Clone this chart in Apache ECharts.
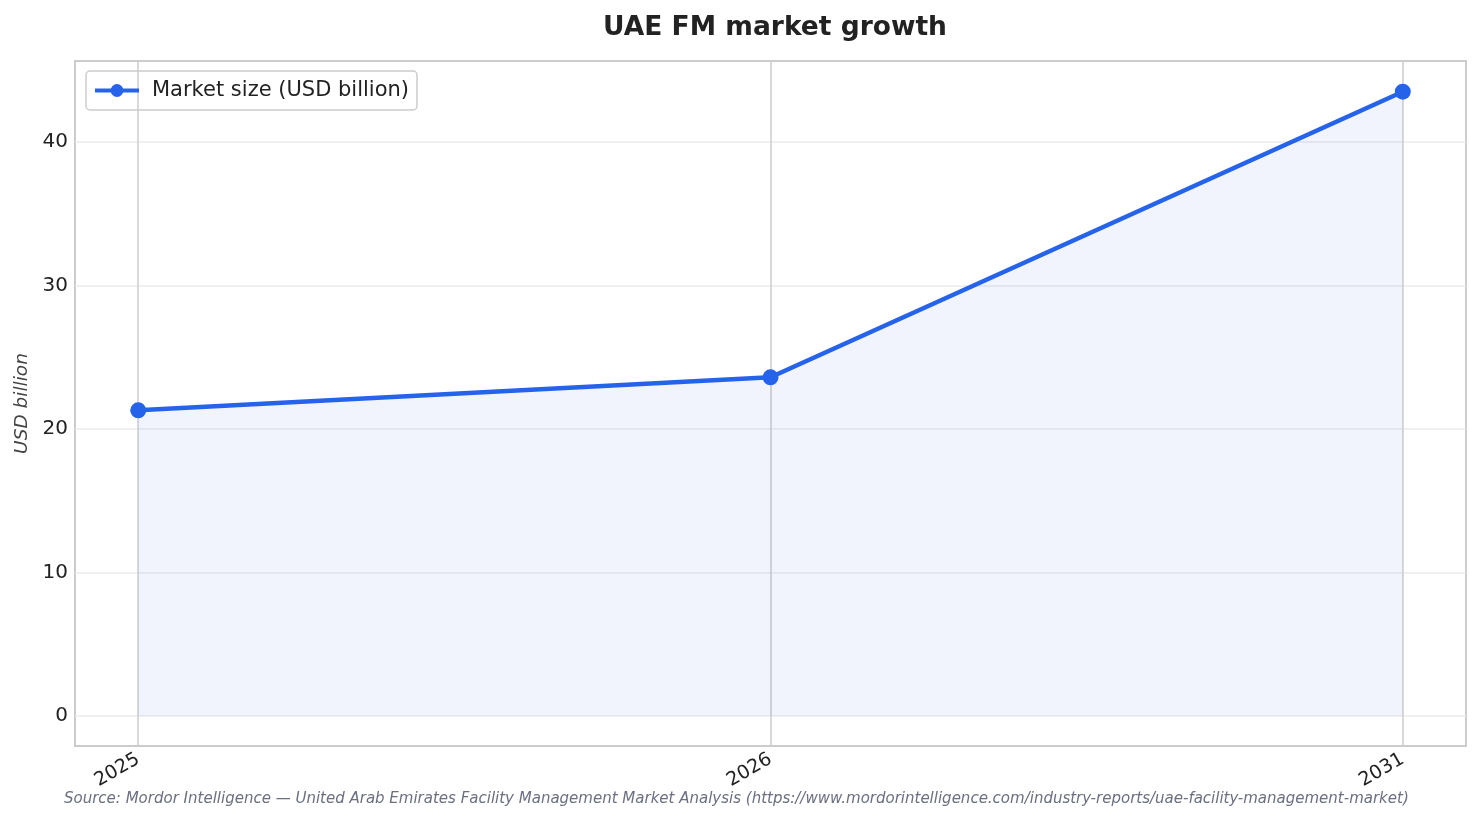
<!DOCTYPE html>
<html>
<head>
<meta charset="utf-8">
<script src="https://cdn.jsdelivr.net/npm/echarts@6/dist/echarts.min.js"></script>
<style>
  html, body { margin: 0; padding: 0; background: #fff; }
  #main { width: 1481px; height: 824px; }
</style>
</head>
<body>
<div id="main"></div>
<script>
// data
var years = ['2025', '2026', '2031'];
var marketSize = [21.3, 23.6, 43.5];
var yTicks = [0, 10, 20, 30, 40];

var chartDom = document.getElementById('main');
var myChart = echarts.init(chartDom);

var points = marketSize.map(function (v, i) { return [i, v]; });
var xIdx = years.map(function (y, i) { return i; });

var option = {
  backgroundColor: '#fff',
  textStyle: { fontFamily: 'DejaVu Sans' },
  title: {
    text: 'UAE FM market growth',
    left: 770,
    textAlign: 'center',
    top: 10,
    textStyle: { fontSize: 26.5, fontWeight: 'bold', color: '#222', fontFamily: 'DejaVu Sans' }
  },
  legend: {
    left: 86,
    top: 71,
    padding: [9, 8, 9, 7],
    borderColor: '#ccc',
    borderWidth: 1.5,
    borderRadius: 4,
    itemWidth: 44,
    itemHeight: 16,
    itemGap: 10,
    lineStyle: { width: 4 },
    textStyle: { fontSize: 21, color: '#222', padding: [0, 0, 0, 8] },
    data: ['Market size (USD billion)']
  },
  grid: { left: 75, right: 15, top: 61, bottom: 78, show: true, borderColor: '#ccc', borderWidth: 2, containLabel: false },
  xAxis: {
    type: 'value',
    min: -0.1,
    max: 2.1,
    axisLine: { show: false },
    axisTick: { show: false, customValues: xIdx },
    axisLabel: {
      customValues: xIdx,
      rotate: 30,
      fontSize: 19,
      color: '#222',
      margin: 12,
      formatter: function (v) { return years[Math.round(v)]; }
    },
    splitLine: { show: true, lineStyle: { color: '#ccc', width: 1.5 } }
  },
  yAxis: {
    type: 'value',
    min: -2.09,
    max: 45.64,
    name: 'USD billion',
    nameLocation: 'middle',
    nameGap: 43,
    nameTextStyle: { fontSize: 18.5, fontStyle: 'italic', color: '#444' },
    axisLine: { show: false },
    axisTick: { show: false, customValues: yTicks },
    axisLabel: { customValues: yTicks, fontSize: 20, color: '#222', margin: 7 },
    splitLine: { show: true, lineStyle: { color: '#ebebeb', width: 1.5 } }
  },
  series: [
    {
      name: 'Market size (USD billion)',
      type: 'line',
      data: points,
      symbol: 'circle',
      symbolSize: 16,
      lineStyle: { color: '#2563eb', width: 4.5 },
      itemStyle: { color: '#2563eb' },
      areaStyle: { color: 'rgba(37,80,210,0.09)', origin: 0 },
      z: 3
    }
  ],
  graphic: [
    {
      type: 'text',
      left: 64,
      top: 792,
      style: {
        text: 'Source: Mordor Intelligence \u2014 United Arab Emirates Facility Management Market Analysis (https://www.mordorintelligence.com/industry-reports/uae-facility-management-market)',
        fontSize: 15,
        fontStyle: 'italic',
        fill: '#6b6f80',
        fontFamily: 'DejaVu Sans'
      }
    }
  ]
};

option && myChart.setOption(option);
</script>
</body>
</html>
